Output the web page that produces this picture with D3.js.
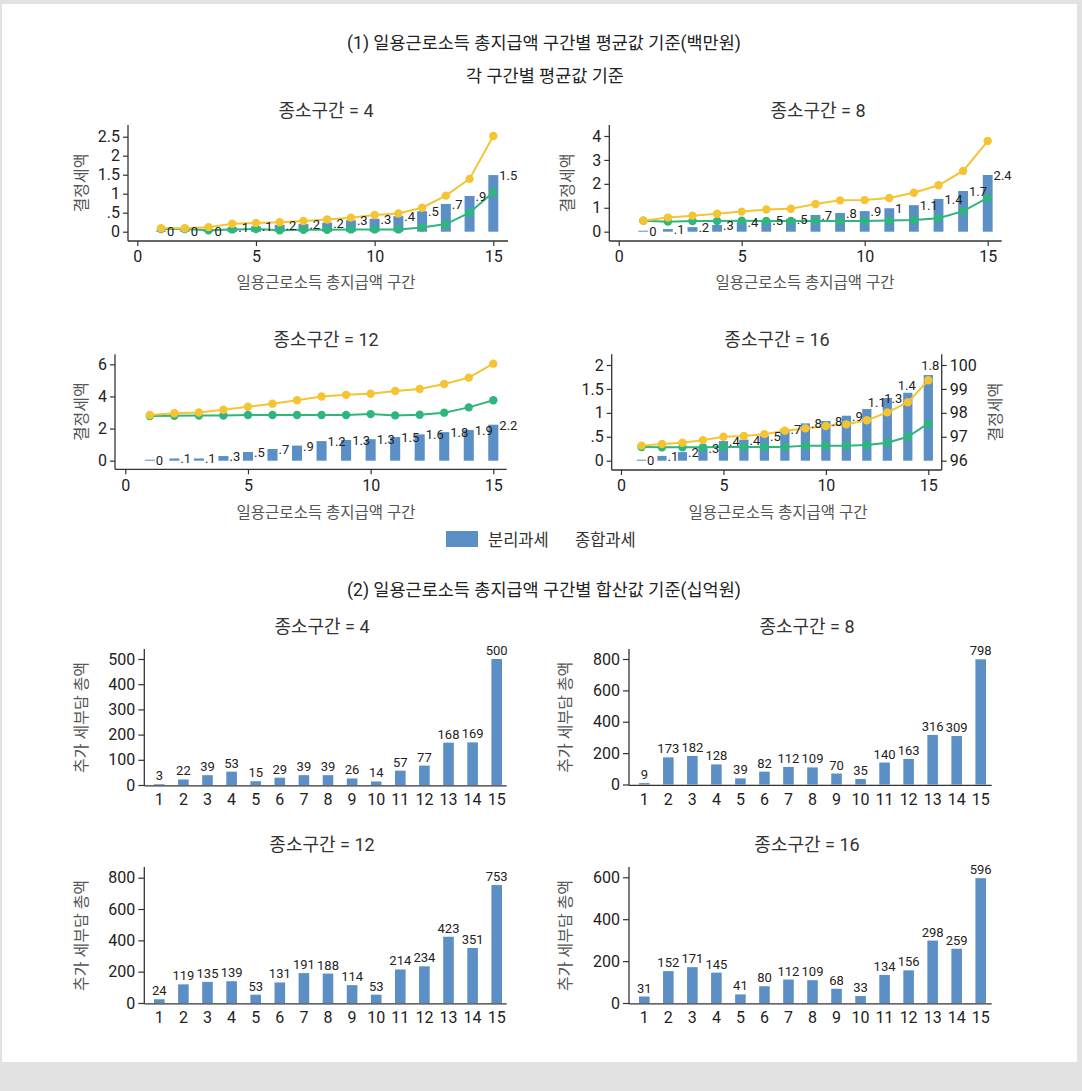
<!DOCTYPE html>
<html>
<head>
<meta charset="utf-8">
<script src="https://cdn.jsdelivr.net/npm/d3@7"></script>
<style>
  html, body { margin: 0; padding: 0; background: #e2e2e2; }
  svg { display: block; }
  text { font-family: Roboto, "Noto Sans CJK KR", sans-serif; }
</style>
</head>
<body>
<svg id="chart" width="1082" height="1091"></svg>
<script>
// ---------- data ----------
const bins = [1, 2, 3, 4, 5, 6, 7, 8, 9, 10, 11, 12, 13, 14, 15];

// (1) per-bin averages (백만원): bars = 분리과세, two lines = 종합과세 levels
const sep4  = [0.01, 0.01, 0.03, 0.11, 0.14, 0.18, 0.2, 0.24, 0.3, 0.34, 0.41, 0.54, 0.73, 0.94, 1.49];
const high4 = [0.09, 0.09, 0.12, 0.21, 0.23, 0.25, 0.28, 0.32, 0.37, 0.44, 0.48, 0.63, 0.95, 1.39, 2.52];
const low4  = [0.07, 0.07, 0.04, 0.06, 0.07, 0.04, 0.05, 0.05, 0.06, 0.06, 0.06, 0.11, 0.2, 0.5, 1.04];

const sep8  = [0.02, 0.11, 0.19, 0.28, 0.4, 0.47, 0.54, 0.7, 0.78, 0.86, 0.98, 1.11, 1.37, 1.7, 2.37];
const high8 = [0.46, 0.59, 0.67, 0.75, 0.84, 0.93, 0.96, 1.16, 1.31, 1.32, 1.41, 1.63, 1.94, 2.54, 3.79];
const low8  = [0.46, 0.42, 0.45, 0.45, 0.46, 0.45, 0.45, 0.45, 0.45, 0.45, 0.47, 0.49, 0.56, 0.86, 1.41];

const sep12  = [0.03, 0.14, 0.14, 0.29, 0.54, 0.73, 0.94, 1.22, 1.29, 1.34, 1.47, 1.64, 1.78, 1.91, 2.24];
const high12 = [2.84, 2.95, 3.0, 3.17, 3.36, 3.55, 3.76, 4.0, 4.1, 4.17, 4.34, 4.46, 4.77, 5.17, 6.04];
const low12  = [2.78, 2.8, 2.81, 2.81, 2.84, 2.84, 2.84, 2.84, 2.84, 2.9, 2.82, 2.86, 2.99, 3.32, 3.76];

const sep16  = [0.01, 0.1, 0.18, 0.26, 0.41, 0.44, 0.52, 0.66, 0.78, 0.83, 0.94, 1.08, 1.31, 1.42, 1.79];
const high16 = [96.63, 96.7, 96.75, 96.86, 97.0, 97.03, 97.11, 97.25, 97.35, 97.45, 97.52, 97.69, 98.02, 98.44, 99.36];
const low16  = [96.57, 96.56, 96.56, 96.56, 96.57, 96.57, 96.57, 96.57, 96.63, 96.63, 96.63, 96.66, 96.75, 97.0, 97.56];

// (2) per-bin totals (십억원): additional tax burden
const total4  = [3, 22, 39, 53, 15, 29, 39, 39, 26, 14, 57, 77, 168, 169, 500];
const total8  = [9, 173, 182, 128, 39, 82, 112, 109, 70, 35, 140, 163, 316, 309, 798];
const total12 = [24, 119, 135, 139, 53, 131, 191, 188, 114, 53, 214, 234, 423, 351, 753];
const total16 = [31, 152, 171, 145, 41, 80, 112, 109, 68, 33, 134, 156, 298, 259, 596];

const ticks4 = [0, 0.5, 1, 1.5, 2, 2.5];
const ticks8 = [0, 1, 2, 3, 4];
const ticks12 = [0, 2, 4, 6];
const ticks16 = [0, 0.5, 1, 1.5, 2];
const ticks16r = [96, 97, 98, 99, 100];
const xTicksTop = [0, 5, 10, 15];
const ticksB4 = [0, 100, 200, 300, 400, 500];
const ticksB8 = [0, 200, 400, 600, 800];
const ticksB12 = [0, 200, 400, 600, 800];
const ticksB16 = [0, 200, 400, 600];

// ---------- styles ----------
const BAR = "#5b8fc6";
const YELLOW = "#f4c433";
const GREEN = "#2fb67d";
const INK = "#222";
const GREY = "#555";
const TITLE = 18;

const svg = d3.select("#chart");
svg.append("rect").attr("x", 2).attr("y", 4).attr("width", 1075).attr("height", 1058).attr("fill", "#fff");

// Stata-like short numbers: ".5", "1.5", "0"
const shortNum = v => {
  const r = Math.round(v * 10) / 10;
  return String(r).replace(/^0\./, ".");
};

function text(x, y, str, size, color, anchor = "middle", rotate = false) {
  const t = svg.append("text")
    .attr("font-size", size).attr("fill", color).attr("text-anchor", anchor)
    .text(str);
  if (rotate) t.attr("transform", `translate(${x},${y}) rotate(-90)`).attr("dy", "0.35em");
  else t.attr("x", x).attr("y", y);
  return t;
}

function styleAxis(g, size) {
  g.select(".domain").remove();
  g.selectAll(".tick line").attr("stroke", "#333").attr("stroke-width", 1.2);
  g.selectAll(".tick text").attr("font-size", size).attr("fill", INK)
    .attr("font-family", 'Roboto, "Noto Sans CJK KR", sans-serif');
}

// ---------- top panels: bars + two lines ----------
function topPanel(c, bars, high, low) {
  const x = d3.scaleLinear().domain([0, 15]).range(c.xr);
  const y = d3.scaleLinear().domain(c.yd).range(c.yr);
  const yLine = c.right ? d3.scaleLinear().domain(c.right.yd).range(c.yr) : y;
  const bw = (x(1) - x(0)) * c.bw;
  const g = svg.append("g");

  // bars
  g.selectAll("rect.bar").data(bins).join("rect")
    .attr("x", d => x(d) - bw / 2)
    .attr("width", bw)
    .attr("y", (d, i) => Math.min(y(bars[i]), y(0) - 1))
    .attr("height", (d, i) => Math.max(y(0) - y(bars[i]), 1))
    .attr("fill", BAR);

  // lines with markers (green underneath yellow)
  [[low, GREEN], [high, YELLOW]].forEach(([vals, col]) => {
    const line = d3.line().x((d, i) => x(bins[i])).y(d => yLine(d));
    g.append("path").datum(vals).attr("d", line)
      .attr("fill", "none").attr("stroke", col).attr("stroke-width", 2);
    g.selectAll(null).data(vals).join("circle")
      .attr("cx", (d, i) => x(bins[i])).attr("cy", d => yLine(d))
      .attr("r", 4.2).attr("fill", col);
  });

  // value labels beside bars
  g.selectAll("text.lab").data(bins).join("text")
    .attr("font-size", 13).attr("fill", INK)
    .each(function (d, i) {
      const t = d3.select(this).text(shortNum(bars[i]));
      const top = y(bars[i]);
      const nudge = c.nudge && c.nudge[d];
      if (nudge) {
        t.attr("x", x(d) + nudge[0]).attr("y", top + nudge[1]).attr("text-anchor", "middle");
      } else {
        t.attr("x", x(d) + bw / 2 + 1).attr("y", top).attr("dy", "0.38em").attr("text-anchor", "start");
      }
    });

  // axes
  g.append("line").attr("x1", c.xAxis[0]).attr("x2", c.xAxis[1])
    .attr("y1", c.axisY).attr("y2", c.axisY).attr("stroke", "#333").attr("stroke-width", 1.3);
  g.append("line").attr("x1", c.xAxis[0]).attr("x2", c.xAxis[0])
    .attr("y1", c.axisTop).attr("y2", c.axisY).attr("stroke", "#333").attr("stroke-width", 1.3);

  const ay = g.append("g").attr("transform", `translate(${c.xAxis[0]},0)`)
    .call(d3.axisLeft(y).tickValues(c.yTicks).tickFormat(shortNum).tickSize(5).tickPadding(3));
  styleAxis(ay, 16);
  const ax = g.append("g").attr("transform", `translate(0,${c.axisY})`)
    .call(d3.axisBottom(x).tickValues(xTicksTop).tickFormat(d3.format("d")).tickSize(5).tickPadding(5));
  styleAxis(ax, 16);

  if (c.right) {
    g.append("line").attr("x1", c.xAxis[1]).attr("x2", c.xAxis[1])
      .attr("y1", c.axisTop).attr("y2", c.axisY).attr("stroke", "#333").attr("stroke-width", 1.3);
    const ar = g.append("g").attr("transform", `translate(${c.xAxis[1]},0)`)
      .call(d3.axisRight(yLine).tickValues(c.right.ticks).tickFormat(d3.format("d")).tickSize(5).tickPadding(3));
    styleAxis(ar, 16);
    text(c.right.titleX, (c.axisTop + c.axisY) / 2, "결정세액", 16, GREY, "middle", true);
  }

  text(c.titleX, c.titleY, c.title, TITLE, "#333");
  text(c.xTitleX, c.xTitleY, "일용근로소득 총지급액 구간", 15.5, GREY);
  if (c.yTitleX) text(c.yTitleX, (c.axisTop + c.axisY) / 2, "결정세액", 16, GREY, "middle", true);
}

topPanel({
  title: "종소구간 = 4", titleX: 326, titleY: 117,
  xAxis: [128, 508], axisY: 241, axisTop: 125,
  xr: [137.3, 493.3], yd: [0, 2.5], yr: [231.7, 136.7], yTicks: ticks4, bw: 0.42,
  xTitleX: 326, xTitleY: 288, yTitleX: 81
}, sep4, high4, low4);

topPanel({
  title: "종소구간 = 8", titleX: 818, titleY: 117,
  xAxis: [609.3, 1001.7], axisY: 241, axisTop: 125,
  xr: [618.7, 987.7], yd: [0, 4], yr: [231.7, 136], yTicks: ticks8, bw: 0.4,
  xTitleX: 805, xTitleY: 288, yTitleX: 567
}, sep8, high8, low8);

topPanel({
  title: "종소구간 = 12", titleX: 326, titleY: 346,
  xAxis: [115, 506.7], axisY: 469.3, axisTop: 354.3,
  xr: [125.3, 493.3], yd: [0, 6], yr: [460.7, 364.3], yTicks: ticks12, bw: 0.41,
  xTitleX: 326, xTitleY: 518, yTitleX: 81
}, sep12, high12, low12);

topPanel({
  title: "종소구간 = 16", titleX: 777, titleY: 346,
  xAxis: [611.7, 941.7], axisY: 470, axisTop: 354.3,
  xr: [621, 928.3], yd: [0, 2], yr: [460.7, 365], yTicks: ticks16, bw: 0.45,
  xTitleX: 778, xTitleY: 518,
  right: { yd: [96, 100], ticks: ticks16r, titleX: 995 },
  nudge: { 12: [10, -2], 13: [6, 5], 14: [-1, -3], 15: [2, -5] }
}, sep16, high16, low16);

// legend
svg.append("rect").attr("x", 446).attr("y", 531).attr("width", 32).attr("height", 16).attr("fill", BAR);
text(488, 546, "분리과세", 16.5, "#333", "start");
text(575, 546, "종합과세", 16.5, "#333", "start");

// headings
text(544, 49, "(1) 일용근로소득 총지급액 구간별 평균값 기준(백만원)", 17.5, "#222");
text(545, 82, "각 구간별 평균값 기준", 17.5, "#222");
text(544, 596, "(2) 일용근로소득 총지급액 구간별 합산값 기준(십억원)", 17.5, "#222");

// ---------- bottom panels: totals ----------
function bottomPanel(c, vals) {
  const step = (c.c15 - c.c1) / 14;
  const x = d3.scaleBand().domain(bins).range([c.c1 - step / 2, c.c15 + step / 2])
    .paddingInner(0.56).paddingOuter(0.28);
  const y = d3.scaleLinear().domain(c.yd).range(c.yr);
  const g = svg.append("g");

  g.selectAll("rect").data(bins).join("rect")
    .attr("x", d => x(d)).attr("width", x.bandwidth())
    .attr("y", (d, i) => y(vals[i])).attr("height", (d, i) => y(0) - y(vals[i]))
    .attr("fill", BAR);

  g.selectAll("text.v").data(bins).join("text")
    .attr("x", d => x(d) + x.bandwidth() / 2)
    .attr("y", (d, i) => y(vals[i]) - 4)
    .attr("text-anchor", "middle").attr("font-size", 13).attr("fill", INK)
    .text((d, i) => vals[i]);

  const base = y(0) + 0.8;
  g.append("line").attr("x1", c.yAxisX).attr("x2", c.xEnd).attr("y1", base).attr("y2", base)
    .attr("stroke", "#333").attr("stroke-width", 1.3);
  g.append("line").attr("x1", c.yAxisX).attr("x2", c.yAxisX).attr("y1", c.axisTop).attr("y2", base)
    .attr("stroke", "#333").attr("stroke-width", 1.3);

  const ay = g.append("g").attr("transform", `translate(${c.yAxisX},0)`)
    .call(d3.axisLeft(y).tickValues(c.yTicks).tickSize(6).tickPadding(3));
  styleAxis(ay, 16);
  const ax = g.append("g").attr("transform", `translate(0,${base})`)
    .call(d3.axisBottom(x).tickSize(0).tickPadding(8));
  styleAxis(ax, 16);

  text(c.titleX, c.titleY, c.title, TITLE, "#333");
  text(c.yTitleX, (c.axisTop + base) / 2, "추가 세부담 총액", 16, GREY, "middle", true);
}

bottomPanel({
  title: "종소구간 = 4", titleX: 322, titleY: 633,
  yAxisX: 144.3, xEnd: 506.7, axisTop: 649,
  c1: 159.3, c15: 496.7, yd: [0, 500], yr: [785, 659], yTicks: ticksB4, yTitleX: 81
}, total4);

bottomPanel({
  title: "종소구간 = 8", titleX: 807, titleY: 633,
  yAxisX: 629, xEnd: 991.7, axisTop: 649,
  c1: 644.3, c15: 980.7, yd: [0, 800], yr: [784.5, 659], yTicks: ticksB8, yTitleX: 565
}, total8);

bottomPanel({
  title: "종소구간 = 12", titleX: 322, titleY: 851,
  yAxisX: 144.3, xEnd: 506.7, axisTop: 867,
  c1: 159.3, c15: 496.7, yd: [0, 800], yr: [1003, 877.7], yTicks: ticksB12, yTitleX: 81
}, total12);

bottomPanel({
  title: "종소구간 = 16", titleX: 807, titleY: 851,
  yAxisX: 629, xEnd: 991.7, axisTop: 867,
  c1: 644.3, c15: 980.7, yd: [0, 600], yr: [1003, 877.3], yTicks: ticksB16, yTitleX: 565
}, total16);
</script>
</body>
</html>
